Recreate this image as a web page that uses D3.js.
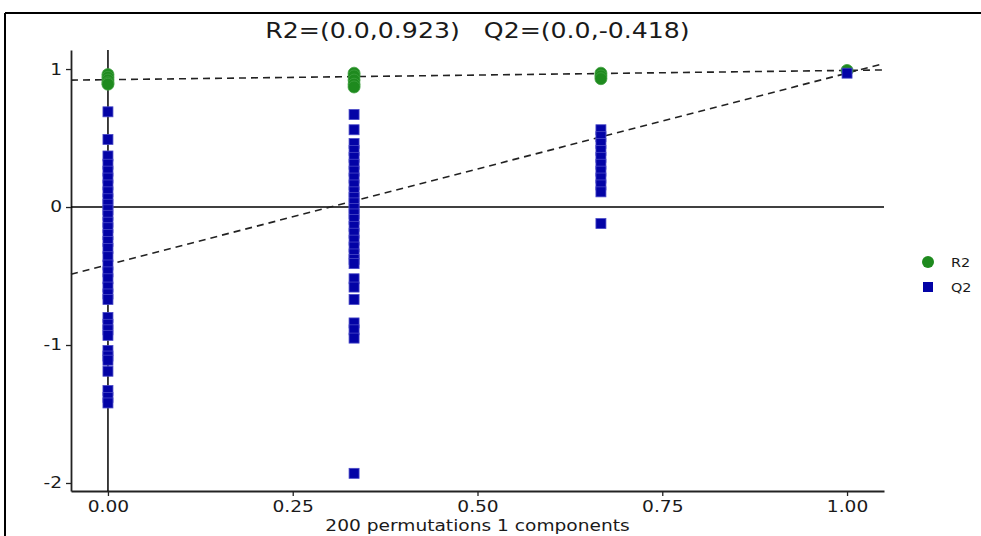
<!DOCTYPE html>
<html>
<head>
<meta charset="utf-8">
<script src="https://cdn.jsdelivr.net/npm/d3@7"></script>
<style>
  body { margin: 0; background: #fff; }
  svg { display: block; }
  text { font-family: "DejaVu Sans", sans-serif; fill: #1a1a1a; white-space: pre; }
</style>
</head>
<body>
<svg id="chart" width="981" height="536"></svg>
<script>
// ---- data ----
const titleText = "R2=(0.0,0.923)   Q2=(0.0,-0.418)";
const xLabel = "200 permutations 1 components";
const xTicks = [0, 0.25, 0.5, 0.75, 1.0];
const yTicks = [-2, -1, 0, 1];
const r2Intercept = 0.923;
const q2Intercept = -0.418;
const r2Original = 0.99;
const q2Original = 0.97;

const r2X = [0, 0, 0, 0, 0, 0.333, 0.333, 0.333, 0.333, 0.333, 0.667, 0.667, 0.667, 1.0];
const r2Y = [0.96, 0.94, 0.92, 0.90, 0.89, 0.97, 0.95, 0.92, 0.89, 0.87, 0.97, 0.95, 0.93, 0.99];

const q2At0 = [0.69, 0.49, 0.37, 0.31, 0.26, 0.21, 0.16, 0.11, 0.06, 0.02, -0.02, -0.06, -0.11,
  -0.15, -0.20, -0.25, -0.30, -0.36, -0.42, -0.47, -0.52, -0.58, -0.63, -0.67,
  -0.80, -0.85, -0.89, -0.93, -1.04, -1.08, -1.11, -1.19, -1.33, -1.38, -1.42];
const q2At1 = [0.67, 0.56, 0.46, 0.41, 0.36, 0.31, 0.26, 0.21, 0.16, 0.11, 0.07, 0.03, -0.01,
  -0.05, -0.09, -0.14, -0.19, -0.24, -0.29, -0.34, -0.38, -0.41,
  -0.52, -0.58, -0.67, -0.84, -0.89, -0.95, -1.93];
const q2At2 = [0.56, 0.51, 0.46, 0.41, 0.36, 0.31, 0.26, 0.21, 0.16, 0.11, -0.12];
const q2At3 = [0.97];
const q2Groups = [[0, q2At0], [0.333, q2At1], [0.667, q2At2], [1.0, q2At3]];

// ---- layout ----
const svg = d3.select("#chart");
const pLeft = 71, pRight = 884, pTop = 50, pBottom = 491;
const sx = 1.2; // horizontal text stretch

const x = d3.scaleLinear().domain([-0.05, 1.05]).range([pLeft, pRight]);
const y = d3.scaleLinear().domain([-2.058, 1.138]).range([pBottom, pTop]);

// frame border
svg.append("line").attr("x1", 5).attr("x2", 981).attr("y1", 13).attr("y2", 13)
  .attr("stroke", "#000").attr("stroke-width", 2);
svg.append("line").attr("x1", 5).attr("x2", 5).attr("y1", 13).attr("y2", 536)
  .attr("stroke", "#000").attr("stroke-width", 2);

// title
svg.append("text")
  .attr("transform", `translate(${(pLeft + pRight) / 2},38) scale(${sx},1)`)
  .attr("xml:space", "preserve")
  .attr("text-anchor", "middle").attr("font-size", 21).text(titleText);

// axes
const xAxis = svg.append("g").attr("transform", `translate(0,${pBottom})`)
  .call(d3.axisBottom(x).tickValues(xTicks).tickFormat(d3.format(".2f")).tickSize(5).tickSizeOuter(0));
const yAxis = svg.append("g").attr("transform", `translate(${pLeft},0)`)
  .call(d3.axisLeft(y).tickValues(yTicks).tickFormat(d => String(d)).tickSize(5).tickSizeOuter(0));
[xAxis, yAxis].forEach(g => {
  g.select(".domain").attr("stroke", "#222").attr("stroke-width", 1.8);
  g.selectAll(".tick line").attr("stroke", "#222").attr("stroke-width", 1.3);
  g.selectAll("text").attr("font-size", 15.5).attr("fill", "#1a1a1a")
    .style("font-family", "'DejaVu Sans', sans-serif");
});
xAxis.selectAll("text").attr("y", 10).attr("transform", `scale(${sx},1)`);
yAxis.selectAll("text").attr("x", -9 / sx).attr("transform", `scale(${sx},1)`);

// x label
svg.append("text")
  .attr("transform", `translate(${(pLeft + pRight) / 2},531) scale(${sx},1)`)
  .attr("text-anchor", "middle").attr("font-size", 15.5).text(xLabel);

// zero lines
svg.append("line").attr("x1", pLeft).attr("x2", pRight).attr("y1", y(0)).attr("y2", y(0))
  .attr("stroke", "#000").attr("stroke-width", 1.5);
svg.append("line").attr("x1", x(0)).attr("x2", x(0)).attr("y1", pTop).attr("y2", pBottom)
  .attr("stroke", "#000").attr("stroke-width", 1.5);

// regression lines
const r2Line = t => r2Intercept + (r2Original - r2Intercept) * t;
const q2Line = t => q2Intercept + (q2Original - q2Intercept) * t;
[r2Line, q2Line].forEach(f => {
  svg.append("line")
    .attr("x1", x(-0.05)).attr("y1", y(f(-0.05)))
    .attr("x2", x(1.05)).attr("y2", y(f(1.05)))
    .attr("stroke", "#222").attr("stroke-width", 1.6).attr("stroke-dasharray", "7,5");
});

// R2 circles
svg.append("g").selectAll("circle").data(r2X.map((v, i) => [v, r2Y[i]])).join("circle")
  .attr("cx", d => x(d[0])).attr("cy", d => y(d[1])).attr("r", 6)
  .attr("fill", "#1e8a1e").attr("stroke", "#3f9f3f").attr("stroke-width", 0.8);

// Q2 squares
const q2Points = q2Groups.flatMap(([gx, vals]) => vals.map(v => [gx, v]));
const s = 10;
svg.append("g").selectAll("rect").data(q2Points).join("rect")
  .attr("x", d => x(d[0]) - s / 2).attr("y", d => y(d[1]) - s / 2)
  .attr("width", s).attr("height", s)
  .attr("fill", "#0303a6").attr("stroke", "#4a4ac8").attr("stroke-width", 0.8);

// legend
const lg = svg.append("g");
lg.append("circle").attr("cx", 928).attr("cy", 262).attr("r", 6).attr("fill", "#1e8a1e");
lg.append("rect").attr("x", 923).attr("y", 282).attr("width", 10).attr("height", 10).attr("fill", "#0303a6");
lg.append("text").attr("transform", `translate(951,266.5) scale(${sx},1)`).attr("font-size", 12).text("R2");
lg.append("text").attr("transform", `translate(951,291.5) scale(${sx},1)`).attr("font-size", 12).text("Q2");
</script>
</body>
</html>
